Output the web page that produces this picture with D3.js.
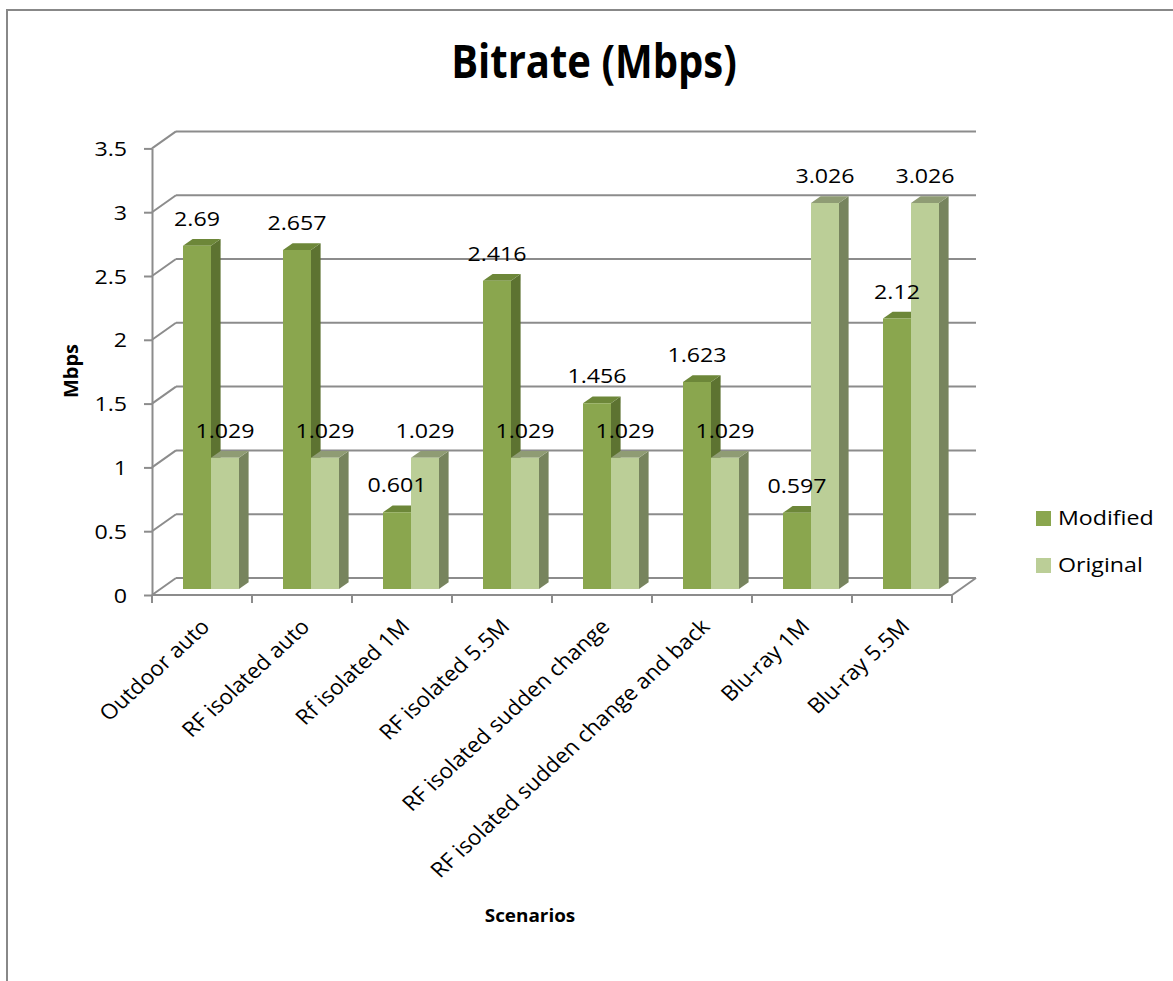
<!DOCTYPE html>
<html>
<head>
<meta charset="utf-8">
<script src="https://cdn.jsdelivr.net/npm/d3@7"></script>
<style>
  html, body { margin: 0; padding: 0; background: #fff; }
  svg { display: block; }
  text { font-family: "Open Sans", "DejaVu Sans", sans-serif; fill: #000; }
</style>
</head>
<body>
<svg id="chart" width="1173" height="981"></svg>
<script>
// ---- data ----
const categories = ["Outdoor auto", "RF isolated auto", "Rf isolated 1M", "RF isolated 5.5M",
  "RF isolated sudden change", "RF isolated sudden change and back", "Blu-ray 1M", "Blu-ray 5.5M"];
const seriesNames = ["Modified", "Original"];
const modified = [2.69, 2.657, 0.601, 2.416, 1.456, 1.623, 0.597, 2.12];
const original = [1.029, 1.029, 1.029, 1.029, 1.029, 1.029, 3.026, 3.026];
const yTicks = [0, 0.5, 1, 1.5, 2, 2.5, 3, 3.5];
const chartTitle = "Bitrate (Mbps)";
const yTitle = "Mbps";
const xTitle = "Scenarios";

const seriesValues = [modified, original];

// ---- styles ----
const colors = {
  Modified: { front: "#8aa64e", side: "#5d7331", top: "#6d8739" },
  Original: { front: "#bbce97", side: "#77845e", top: "#8f9c74" }
};
const gridColor = "#8c8c8c";
const SX = 1.16;   // horizontal text stretch
const SXL = 1.08;  // stretch of rotated category labels

const svg = d3.select("#chart");

// frame
svg.append("rect").attr("x", 7).attr("y", 10).attr("width", 1200).attr("height", 1000)
  .attr("fill", "#fff").attr("stroke", "#888").attr("stroke-width", 2);

// ---- scales ----
const x = d3.scaleBand().domain(categories).range([152, 952]);
const xs = d3.scaleBand().domain(seriesNames).range([22.6, 78.6]);
const y = d3.scaleLinear().domain([0, 3.5]).range([595, 148.4]);
const DX = 24, DY = -17;           // full depth of the 3D box
const D0 = 0.35, D1 = 0.75;        // bar front / back depth
const proj = (xf, v, d) => [xf + d * DX, y(v) + d * DY];

// ---- walls ----
const walls = svg.append("g");
yTicks.forEach(t => {
  const a = proj(x.range()[0], t, 1), b = proj(x.range()[1], t, 1);
  walls.append("line").attr("x1", a[0]).attr("y1", a[1]).attr("x2", b[0]).attr("y2", b[1])
    .attr("stroke", gridColor).attr("stroke-width", 2);
  const c = proj(x.range()[0], t, 0);
  walls.append("line").attr("x1", c[0]).attr("y1", c[1]).attr("x2", a[0]).attr("y2", a[1])
    .attr("stroke", gridColor).attr("stroke-width", 2);
});
{
  const a = proj(x.range()[1], 0, 0), b = proj(x.range()[1], 0, 1);
  walls.append("line").attr("x1", a[0]).attr("y1", a[1]).attr("x2", b[0]).attr("y2", b[1])
    .attr("stroke", gridColor).attr("stroke-width", 2);
}

// ---- axes ----
const yAxis = svg.append("g").attr("transform", `translate(${x.range()[0]},0)`)
  .call(d3.axisLeft(y).tickValues(yTicks).tickSize(8).tickSizeOuter(0).tickFormat(d3.format("")));
yAxis.select(".domain").attr("stroke", gridColor).attr("stroke-width", 2);
yAxis.selectAll(".tick line").attr("stroke", gridColor).attr("stroke-width", 2);
yAxis.selectAll(".tick text").remove();
yAxis.selectAll(".tick").append("text")
  .attr("transform", `translate(-25,7) scale(${SX},1)`)
  .attr("text-anchor", "end").style("font-size", "20px")
  .text(d => d3.format("")(d));

const xAxisG = svg.append("g");
xAxisG.append("line").attr("x1", x.range()[0]).attr("x2", x.range()[1])
  .attr("y1", y(0)).attr("y2", y(0)).attr("stroke", gridColor).attr("stroke-width", 2);
const bounds = categories.map(c => x(c)).concat([x.range()[1]]);
xAxisG.selectAll(".bt").data(bounds).join("line")
  .attr("x1", d => d).attr("x2", d => d).attr("y1", y(0)).attr("y2", y(0) + 8)
  .attr("stroke", gridColor).attr("stroke-width", 2);
xAxisG.selectAll(".xl").data(categories).join("text")
  .attr("transform", c => `translate(${x(c) + x.bandwidth() / 2 + 9},628) scale(${SXL},1) rotate(-45)`)
  .attr("text-anchor", "end").style("font-size", "21px")
  .text(c => c);

// ---- bars ----
const bw = xs.bandwidth();
const barsG = svg.append("g");
const labels = [];
categories.forEach((c, i) => {
  seriesNames.forEach((s, k) => {
    const v = seriesValues[k][i];
    const xl = x(c) + xs(s), xr = xl + bw;
    const col = colors[s];
    const fbl = proj(xl, 0, D0), fbr = proj(xr, 0, D0), ftl = proj(xl, v, D0), ftr = proj(xr, v, D0);
    const bbr = proj(xr, 0, D1), btl = proj(xl, v, D1), btr = proj(xr, v, D1);
    barsG.append("polygon").attr("points", [fbr, bbr, btr, ftr].map(p => p.join(",")).join(" "))
      .attr("fill", col.side);
    barsG.append("polygon").attr("points", [ftl, ftr, btr, btl].map(p => p.join(",")).join(" "))
      .attr("fill", col.top);
    barsG.append("polygon").attr("points", [fbl, fbr, ftr, ftl].map(p => p.join(",")).join(" "))
      .attr("fill", col.front);
    labels.push({ x: (ftl[0] + ftr[0]) / 2, y: ftl[1] - 20, v });
  });
});

// ---- data labels ----
svg.append("g").selectAll("text").data(labels).join("text")
  .attr("transform", d => `translate(${d.x},${d.y}) scale(${SX},1)`)
  .attr("text-anchor", "middle").style("font-size", "20px")
  .text(d => d.v);

// ---- titles ----
svg.append("text").attr("transform", "translate(594,78) scale(0.87,1)").attr("text-anchor", "middle")
  .style("font-size", "46px").style("font-weight", "bold").text(chartTitle);
svg.append("text").attr("transform", "translate(78,371) rotate(-90)").attr("text-anchor", "middle")
  .style("font-size", "20px").style("font-weight", "bold").text(yTitle);
svg.append("text").attr("transform", `translate(530,922) scale(1.05,1)`).attr("text-anchor", "middle")
  .style("font-size", "18px").style("font-weight", "bold").text(xTitle);

// ---- legend ----
const legend = svg.append("g");
seriesNames.forEach((s, k) => {
  const ly = 511 + k * 47;
  legend.append("rect").attr("x", 1036).attr("y", ly).attr("width", 15).attr("height", 15)
    .attr("fill", colors[s].front);
  legend.append("text").attr("transform", `translate(1058,${ly + 14}) scale(${SX},1)`)
    .style("font-size", "20px").text(s);
});
</script>
</body>
</html>
